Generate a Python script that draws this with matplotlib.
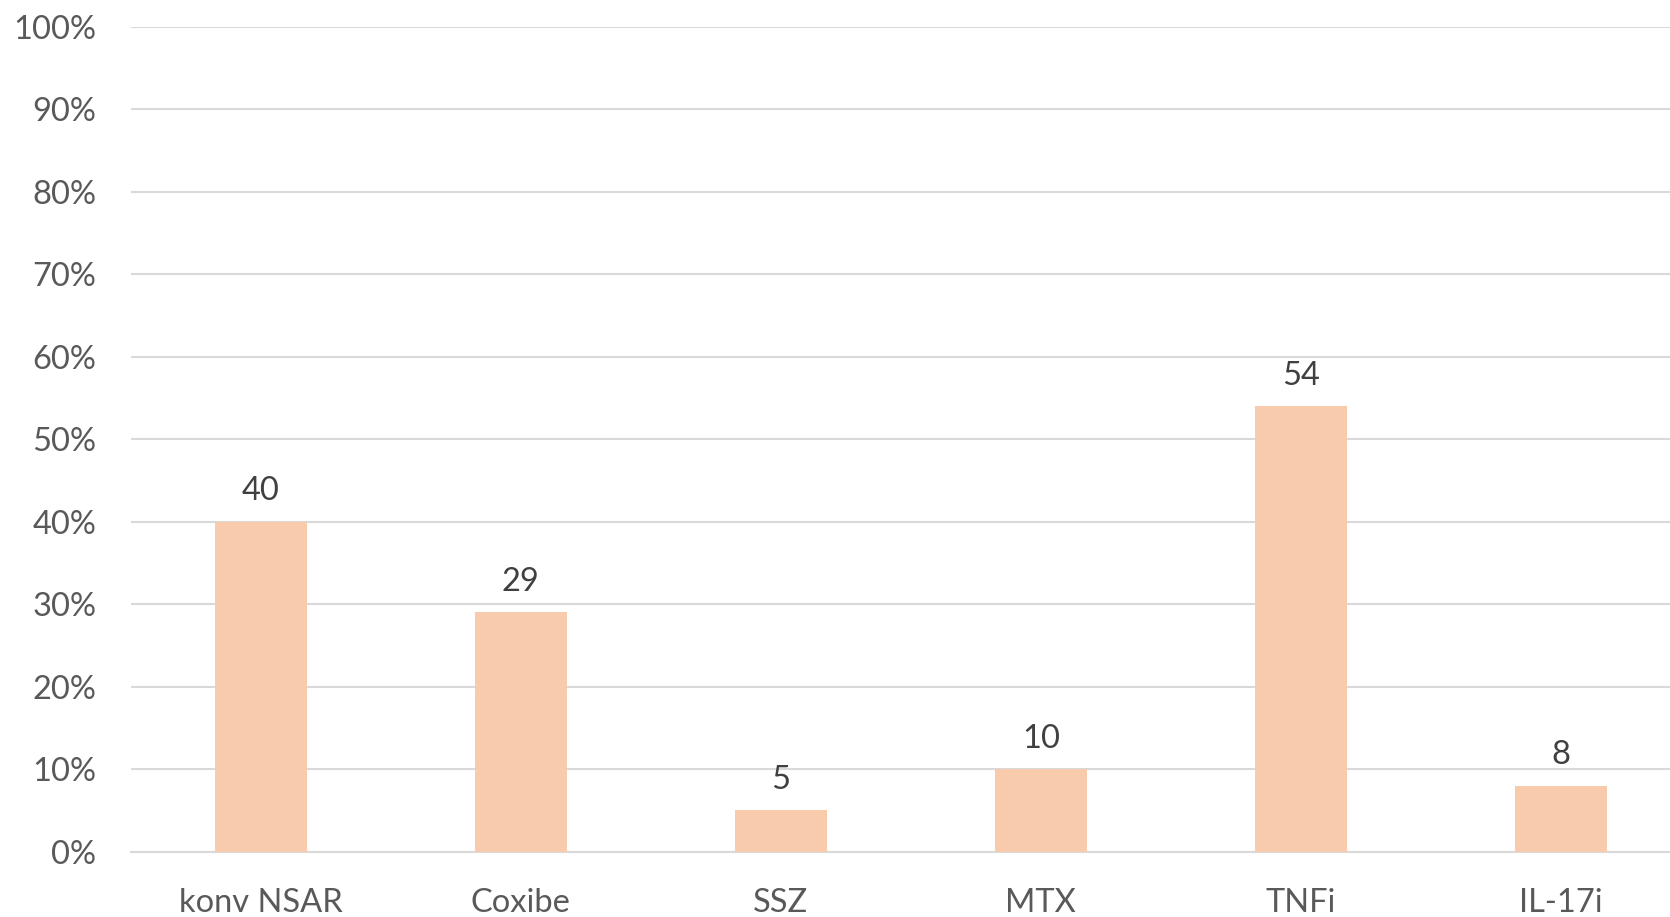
import matplotlib
matplotlib.use('Agg')
import matplotlib.pyplot as plt
from matplotlib.ticker import PercentFormatter

categories = ['konv NSAR', 'Coxibe', 'SSZ', 'MTX', 'TNFi', 'IL-17i']
values = [40, 29, 5, 10, 54, 8]
yticks = [0, 10, 20, 30, 40, 50, 60, 70, 80, 90, 100]

plt.rcParams['font.family'] = ['Lato', 'DejaVu Sans']

fig = plt.figure(figsize=(16.7, 9.17), dpi=100)
ax = fig.add_axes([0.0784, 0.0712, 0.934, 0.8997])

x = range(len(categories))
bars = ax.bar(x, values, width=0.354, color='#F8CBAD', zorder=3)

for xi, v in zip(x, values):
    ax.annotate(str(v), (xi, v), xytext=(0, 11), textcoords='offset points',
                ha='center', va='bottom', fontsize=23.5, color='#404040')

ax.set_xlim(-0.5, len(categories) - 0.5)
ax.set_ylim(0, 100)
ax.set_yticks(yticks)
ax.yaxis.set_major_formatter(PercentFormatter(decimals=0))
ax.set_xticks(list(x))
ax.set_xticklabels(categories)

ax.grid(axis='y', color='#D9D9D9', linewidth=1.5, zorder=0)
for s in ['top', 'right', 'left']:
    ax.spines[s].set_visible(False)
ax.spines['bottom'].set_color('#D9D9D9')
ax.spines['bottom'].set_linewidth(1.5)
ax.tick_params(axis='both', length=0, labelsize=23.5, labelcolor='#595959')
ax.tick_params(axis='y', pad=25)
ax.tick_params(axis='x', pad=26)

fig.savefig('out.png', dpi=100)
